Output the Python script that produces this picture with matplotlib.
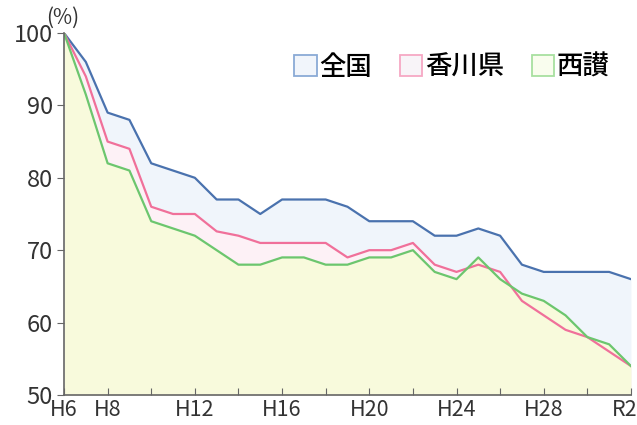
import numpy as np
import matplotlib
matplotlib.use('Agg')
from matplotlib import pyplot as plt
from matplotlib.patches import Patch
import matplotlib.transforms as mtransforms

plt.rcParams['font.family'] = ['Noto Sans CJK JP', 'DejaVu Sans']

years = ['H6', 'H7', 'H8', 'H9', 'H10', 'H11', 'H12', 'H13', 'H14', 'H15',
         'H16', 'H17', 'H18', 'H19', 'H20', 'H21', 'H22', 'H23', 'H24', 'H25',
         'H26', 'H27', 'H28', 'H29', 'H30', 'R1', 'R2']
zenkoku = [100, 96, 89, 88, 82, 81, 80, 77, 77, 75,
           77, 77, 77, 76, 74, 74, 74, 72, 72, 73,
           72, 68, 67, 67, 67, 67, 66]
kagawa = [100, 94, 85, 84, 76, 75, 75, 72.6, 72, 71,
          71, 71, 71, 69, 70, 70, 71, 68, 67, 68,
          67, 63, 61, 59, 58, 56, 54]
seisan = [100, 91.5, 82, 81, 74, 73, 72, 70, 68, 68,
          69, 69, 68, 68, 69, 69, 70, 67, 66, 69,
          66, 64, 63, 61, 58, 57, 54]
shown = ['H6', 'H8', 'H12', 'H16', 'H20', 'H24', 'H28', 'R2']

x = np.arange(len(years))

fig = plt.figure(figsize=(6.37, 4.25), dpi=100)
ax = fig.add_axes([0.1005, 0.0706, 0.89, 0.8518])

# fills first, lines on top
ax.fill_between(x, zenkoku, 50, color='#f0f5fb', lw=0)
ax.fill_between(x, kagawa, 50, color='#fdf1f6', lw=0)
ax.fill_between(x, seisan, 50, color='#f8fadc', lw=0)
ax.plot(x, zenkoku, color='#4a72ae', lw=1.6)
ax.plot(x, kagawa, color='#f0709a', lw=1.6)
ax.plot(x, seisan, color='#6cc66e', lw=1.6)

ax.set_xlim(0, len(years) - 1)
ax.set_ylim(50, 100)
ax.set_xticks(x[::2])
ax.set_xticklabels([years[i] if years[i] in shown else '' for i in x[::2]])
ax.set_yticks([50, 60, 70, 80, 90, 100])

for s in ['top', 'right']:
    ax.spines[s].set_visible(False)
for s in ['left', 'bottom']:
    ax.spines[s].set_color('#666666')
    ax.spines[s].set_linewidth(1.2)
ax.tick_params(axis='y', direction='out', length=5, color='#666666',
               labelsize=17, labelcolor='#333333', pad=3)
ax.tick_params(axis='x', direction='in', length=5, color='#666666',
               labelsize=15.5, labelcolor='#333333', pad=3)

# nudge the last label so it stays inside the figure
last = ax.get_xticklabels()[-1]
last.set_transform(last.get_transform() +
                   mtransforms.ScaledTranslation(-6 / 100, 0, fig.dpi_scale_trans))

fig.text(0.099, 0.958, '(%)', fontsize=15, color='#333333', ha='center', va='center')

handles = [Patch(facecolor='#f1f5fb', edgecolor='#8aaad6', lw=1.3),
           Patch(facecolor='#f8f4f8', edgecolor='#f6a8c4', lw=1.3),
           Patch(facecolor='#f9fdee', edgecolor='#a8e0a0', lw=1.3)]
ax.legend(handles, ['全国', '香川県', '西讃'], ncol=3, frameon=False,
          loc='center right', bbox_to_anchor=(0.962, 0.906),
          handlelength=0.85, handleheight=0.85, handletextpad=0.1,
          columnspacing=1.05, borderaxespad=0, borderpad=0,
          prop={'size': 19, 'weight': 'medium'})

fig.savefig('out.png', dpi=100)
